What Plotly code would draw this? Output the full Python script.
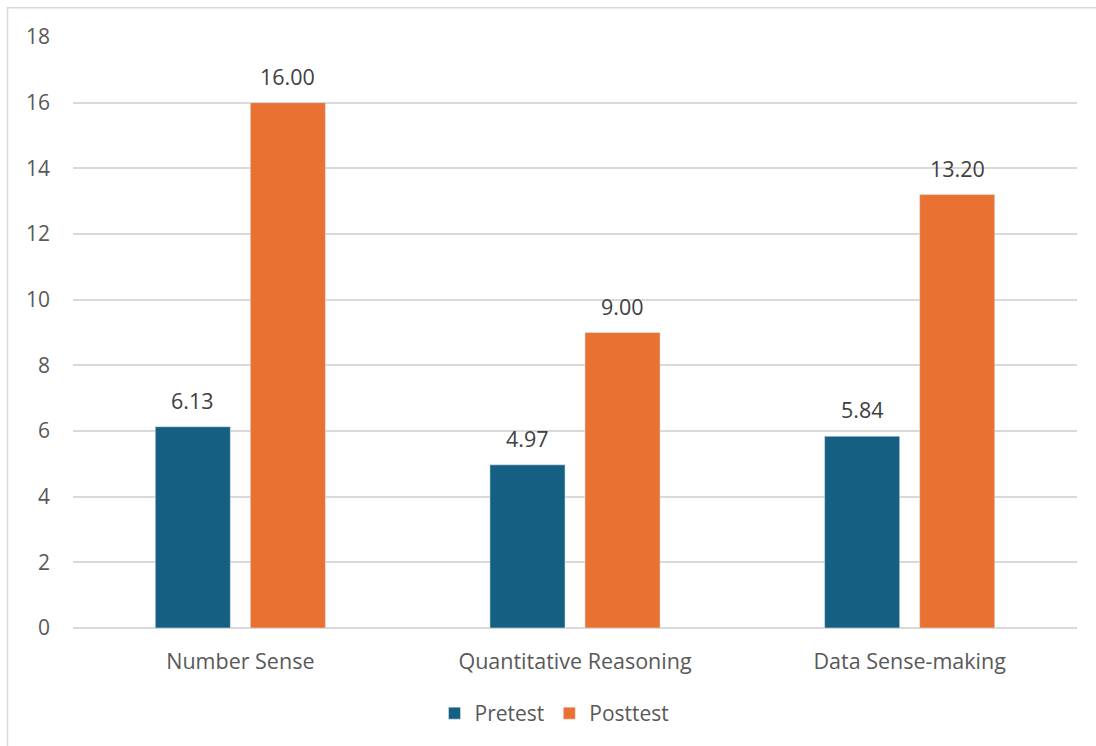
import plotly.graph_objects as go

categories = ["Number Sense", "Quantitative Reasoning", "Data Sense-making"]
pretest = [6.13, 4.97, 5.84]
posttest = [16.00, 9.00, 13.20]
y_ticks = [0, 2, 4, 6, 8, 10, 12, 14, 16, 18]

FONT = "Open Sans, Noto Sans, sans-serif"
TEXT = "#595959"
LABEL = "#404040"

series = [("Pretest", pretest, "#156082", -47.5), ("Posttest", posttest, "#E97132", 47.5)]

fig = go.Figure()
annotations = []
for name, values, color, dx in series:
    fig.add_trace(go.Bar(name=name, x=categories, y=values, marker_color=color))
    # value labels sitting a little above each bar
    for cat, v in zip(categories, values):
        annotations.append(dict(
            x=cat, y=v, xref="x", yref="y", text=f"{v:.2f}", showarrow=False,
            xshift=dx, yshift=10, yanchor="bottom", xanchor="center",
            font=dict(size=21.5, color=LABEL, family=FONT),
        ))

fig.update_layout(
    width=1096, height=746,
    margin=dict(l=73, r=19, t=37, b=115),
    paper_bgcolor="white", plot_bgcolor="white",
    barmode="group", bargap=0.432, bargroupgap=0.21,
    font=dict(family=FONT, size=21, color=TEXT),
    showlegend=True,
    legend=dict(orientation="h", x=0.4796, xanchor="center", y=-0.11, yanchor="top",
                font=dict(size=21, color=TEXT), itemwidth=30, traceorder="normal"),
    xaxis=dict(showgrid=False, showline=False, ticks="", ticklabelstandoff=18,
               tickfont=dict(size=21.5, color=TEXT)),
    yaxis=dict(range=[0, 18], tickvals=y_ticks, showgrid=True, gridcolor="#D9D9D9", gridwidth=1.5,
               zeroline=True, zerolinecolor="#D9D9D9", zerolinewidth=1.5,
               showline=False, ticks="", ticklabelstandoff=22,
               tickfont=dict(size=21, color=TEXT)),
    annotations=annotations,
    shapes=[dict(type="rect", xref="paper", yref="paper",
                 x0=-0.0652, x1=1.1, y0=-0.3, y1=1.0497,
                 line=dict(color="#D9D9D9", width=1.5), layer="below")],
)

fig.write_html("out.html")
